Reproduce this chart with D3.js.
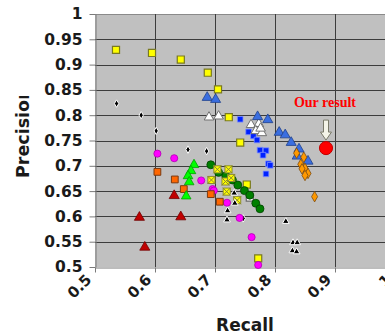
<!DOCTYPE html>
<html>
<head>
<meta charset="utf-8">
<script src="https://cdn.jsdelivr.net/npm/d3@7"></script>
<style>
  html, body { margin: 0; padding: 0; background: #ffffff; }
  svg { display: block; }
</style>
</head>
<body>
<svg id="chart" width="385" height="336"></svg>
<script>
// Precision / recall of the compared systems, one array per marker series: [recall, precision]
const yellowSquares = [[0.535,0.929],[0.595,0.923],[0.643,0.910],[0.688,0.884],[0.705,0.851],[0.723,0.796],[0.742,0.746],[0.753,0.663],[0.772,0.517]];
const blueTriangles = [[0.687,0.835],[0.701,0.831],[0.771,0.797],[0.788,0.791],[0.807,0.766],[0.817,0.761],[0.827,0.746],[0.840,0.733],[0.837,0.719],[0.855,0.709]];
const whiteTriangles = [[0.690,0.796],[0.706,0.798],[0.760,0.781],[0.773,0.783],[0.768,0.769],[0.778,0.765],[0.776,0.774]];
const blueSquares = [[0.742,0.792],[0.756,0.767],[0.764,0.759],[0.770,0.751],[0.775,0.731],[0.785,0.730],[0.780,0.721],[0.789,0.704],[0.792,0.701],[0.785,0.684]];
const orangeDiamonds = [[0.836,0.725],[0.848,0.717],[0.843,0.703],[0.850,0.695],[0.845,0.694],[0.855,0.685],[0.850,0.681],[0.866,0.639]];
const blackDiamonds = [[0.536,0.823],[0.577,0.800],[0.602,0.769],[0.655,0.732],[0.686,0.729],[0.747,0.596]];
const blackTriangles = [[0.732,0.646],[0.733,0.626],[0.721,0.611],[0.720,0.593],[0.818,0.590],[0.830,0.548],[0.837,0.548],[0.829,0.532],[0.836,0.530]];
const magentaCircles = [[0.604,0.724],[0.632,0.715],[0.677,0.671],[0.696,0.654],[0.698,0.651],[0.720,0.627],[0.741,0.597],[0.761,0.559],[0.772,0.504]];
const orangeSquares = [[0.604,0.688],[0.633,0.673],[0.648,0.654],[0.693,0.644],[0.708,0.629]];
const redTriangles = [[0.574,0.598],[0.583,0.539],[0.632,0.641],[0.643,0.599]];
const greenTriangles = [[0.665,0.702],[0.660,0.690],[0.655,0.680],[0.657,0.668],[0.652,0.640]];
const darkGreenCircles = [[0.693,0.702],[0.706,0.687],[0.718,0.680],[0.729,0.672],[0.738,0.662],[0.749,0.651],[0.758,0.642],[0.768,0.626],[0.775,0.615]];
const yellowCrosses = [[0.704,0.693],[0.7225,0.693],[0.694,0.672],[0.7175,0.669],[0.727,0.676],[0.7195,0.649],[0.737,0.632]];
const whiteSquares = [[0.758,0.637]];
const ourResult = [[0.885,0.735]];

const xTicks = [0.5, 0.6, 0.7, 0.8, 0.9, 1.0];
const xTickLabels = ["0.5", "0.6", "0.7", "0.8", "0.9", "1"];
const yTicks = [0.5, 0.55, 0.6, 0.65, 0.7, 0.75, 0.8, 0.85, 0.9, 0.95, 1.0];
const yTickLabels = ["0.5", "0.55", "0.6", "0.65", "0.7", "0.75", "0.8", "0.85", "0.9", "0.95", "1"];

const svg = d3.select("#chart");
const plotLeft = 95, plotTop = 14, plotRight = 395, plotBottom = 267;

const x = d3.scaleLinear().domain([0.5, 1.0]).range([plotLeft, plotRight]);
const y = d3.scaleLinear().domain([0.5, 1.0]).range([plotBottom, plotTop]);

// plot background
svg.append("rect")
  .attr("x", plotLeft).attr("y", plotTop)
  .attr("width", plotRight - plotLeft).attr("height", plotBottom - plotTop)
  .attr("fill", "#c0c0c0");

// grid
const grid = svg.append("g").attr("stroke-width", 1);
grid.selectAll("line.h").data(yTicks.filter(d => d > 0.5)).join("line")
  .attr("class", "h")
  .attr("x1", plotLeft).attr("x2", plotRight)
  .attr("y1", d => Math.round(y(d)) + 0.5).attr("y2", d => Math.round(y(d)) + 0.5)
  .attr("stroke", d => d === 1.0 ? "#8a8a8a" : "#3c3c3c");
grid.selectAll("line.v").data(xTicks.filter(d => d > 0.5)).join("line")
  .attr("class", "v")
  .attr("y1", plotTop).attr("y2", plotBottom)
  .attr("x1", d => Math.round(x(d)) + 0.5).attr("x2", d => Math.round(x(d)) + 0.5)
  .attr("stroke", "#3c3c3c");

// axes
const fmtX = (d, i) => xTickLabels[i];
const fmtY = (d, i) => yTickLabels[i];

const xAxis = svg.append("g")
  .attr("transform", `translate(0,${plotBottom + 0.5})`)
  .call(d3.axisBottom(x).tickValues(xTicks).tickFormat(fmtX).tickSize(5).tickSizeOuter(0));
xAxis.select(".domain").attr("stroke", "#7a7a7a");
xAxis.selectAll(".tick line").attr("stroke", "#7a7a7a");
xAxis.selectAll(".tick text")
  .attr("font-family", "'DejaVu Sans', Verdana, sans-serif")
  .attr("font-weight", "bold")
  .attr("font-size", 15)
  .attr("fill", "#1a1a1a")
  .attr("text-anchor", "end")
  .attr("dy", null)
  .attr("y", 0)
  .attr("transform", "translate(-3,13) rotate(-45)");

const yAxis = svg.append("g")
  .attr("transform", `translate(${plotLeft + 0.5},0)`)
  .call(d3.axisLeft(y).tickValues(yTicks).tickFormat(fmtY).tickSize(6).tickSizeOuter(0));
yAxis.select(".domain").attr("stroke", "#7a7a7a");
yAxis.selectAll(".tick line").attr("stroke", "#7a7a7a");
yAxis.selectAll(".tick text")
  .attr("font-family", "'DejaVu Sans', Verdana, sans-serif")
  .attr("font-weight", "bold")
  .attr("font-size", 15.5)
  .attr("fill", "#1a1a1a")
  .attr("x", -13);

// axis titles
svg.append("text")
  .attr("x", (plotLeft + plotRight) / 2)
  .attr("y", 331)
  .attr("text-anchor", "middle")
  .attr("font-family", "'DejaVu Sans', Verdana, sans-serif")
  .attr("font-weight", "bold")
  .attr("font-size", 17)
  .attr("fill", "#1a1a1a")
  .text("Recall");

// the vertical title runs into the top of its box and is trimmed there
svg.append("clipPath").attr("id", "ytitle-clip")
  .append("rect").attr("x", 0).attr("y", 96).attr("width", 60).attr("height", 120);
svg.append("g")
  .attr("clip-path", "url(#ytitle-clip)")
  .append("text")
  .attr("transform", "translate(28.5,178) rotate(-90)")
  .attr("text-anchor", "start")
  .attr("font-family", "'DejaVu Sans', Verdana, sans-serif")
  .attr("font-weight", "bold")
  .attr("font-size", 17.5)
  .attr("fill", "#1a1a1a")
  .text("Precision");

// marker series
const sym = (type, area) => d3.symbol().type(type).size(area)();
const plot = svg.append("g");

function drawSeries(data, path, fill, stroke, sw) {
  plot.append("g").selectAll("path").data(data).join("path")
    .attr("d", path)
    .attr("transform", d => `translate(${x(d[0])},${y(d[1])})`)
    .attr("fill", fill)
    .attr("stroke", stroke)
    .attr("stroke-width", sw);
}

drawSeries(yellowSquares, sym(d3.symbolSquare, 50), "#ffff00", "#7a7a20", 1.2);
drawSeries(whiteSquares, sym(d3.symbolSquare, 50), "#ffffff", "#6a6a6a", 1.2);
drawSeries(blackDiamonds, sym(d3.symbolDiamond, 16), "#000000", "#ffffff", 1);
drawSeries(redTriangles, sym(d3.symbolTriangle, 44), "#c00000", "#700000", 0.8);
drawSeries(magentaCircles, sym(d3.symbolCircle, 40), "#ff00ff", "#b000b0", 0.8);
drawSeries(orangeSquares, sym(d3.symbolSquare, 46), "#ff6600", "#7a3a10", 1);
drawSeries(greenTriangles, sym(d3.symbolTriangle, 40), "#00ff00", "#00a000", 0.8);
drawSeries(darkGreenCircles, sym(d3.symbolCircle, 50), "#008000", "#004000", 0.8);

// yellow squares crossed by an x
const crossPath = sym(d3.symbolSquare, 50) + "M-4,-4L4,4M-4,4L4,-4";
drawSeries(yellowCrosses, crossPath, "#ffff00", "#8a8a30", 1);

drawSeries(blackTriangles, sym(d3.symbolTriangle, 20), "#000000", "#ffffff", 1);
drawSeries(blueSquares, sym(d3.symbolSquare, 32), "#0022ff", "#8090ff", 0.8);
drawSeries(whiteTriangles, sym(d3.symbolTriangle, 40), "#ffffff", "#707070", 1);
drawSeries(blueTriangles, sym(d3.symbolTriangle, 44), "#3a6ee0", "#20408a", 0.8);
drawSeries(orangeDiamonds, sym(d3.symbolDiamond, 32), "#ff9900", "#7a4a10", 0.8);
drawSeries(ourResult, sym(d3.symbolCircle, 135), "#ff0000", "#c00000", 1);

// annotation for the proposed method
const rx = x(ourResult[0][0]), ry = y(ourResult[0][1]);
const arrow = `M${rx - 2.5},${ry - 28} L${rx + 2.5},${ry - 28} L${rx + 2.5},${ry - 16} L${rx + 5.5},${ry - 16} L${rx},${ry - 8} L${rx - 5.5},${ry - 16} L${rx - 2.5},${ry - 16} Z`;
svg.append("path").attr("d", arrow)
  .attr("fill", "#f4f4e8").attr("stroke", "#7a7a6a").attr("stroke-width", 1);

svg.append("text")
  .attr("x", rx - 1)
  .attr("y", ry - 41)
  .attr("text-anchor", "middle")
  .attr("font-family", "'Liberation Serif', 'Times New Roman', serif")
  .attr("font-weight", "bold")
  .attr("font-size", 14)
  .attr("fill", "#ff0000")
  .text("Our result");
</script>
</body>
</html>
